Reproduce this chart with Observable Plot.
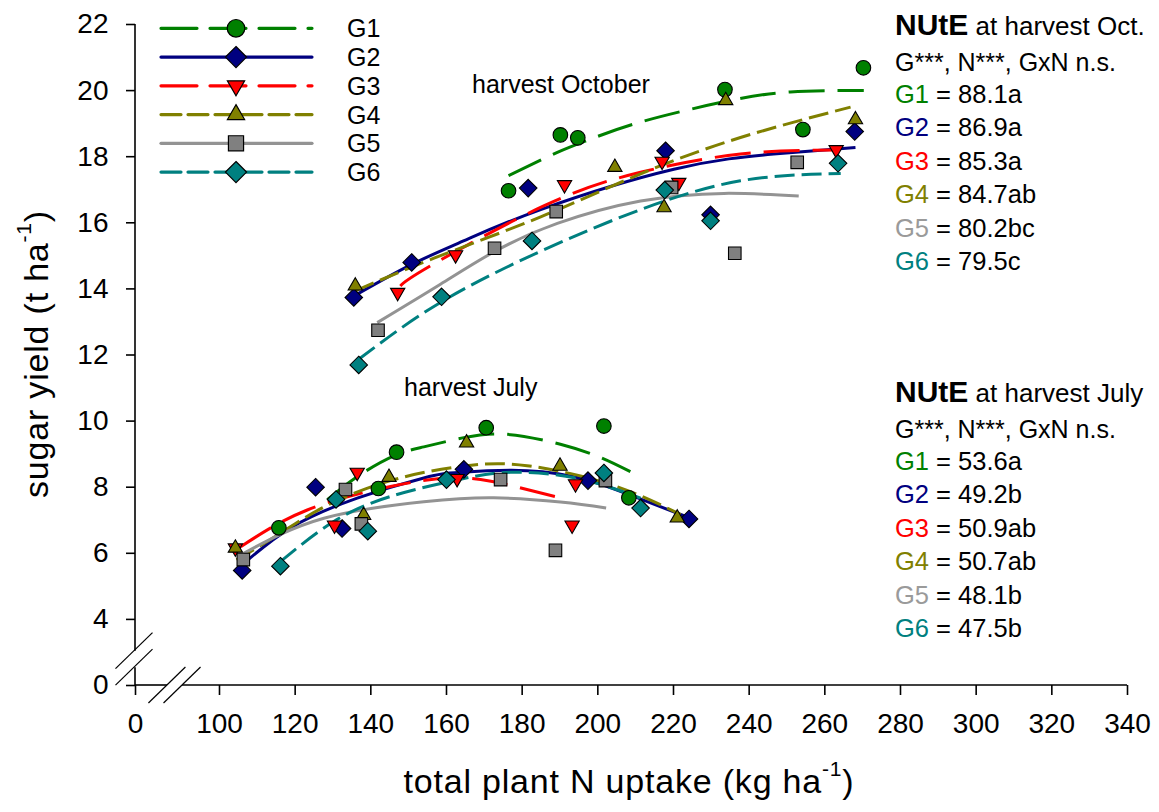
<!DOCTYPE html>
<html>
<head>
<meta charset="utf-8">
<script src="https://cdn.jsdelivr.net/npm/d3@7"></script>
<script src="https://cdn.jsdelivr.net/npm/@observablehq/plot@0.6"></script>
<style>
  html, body { margin: 0; padding: 0; background: #fff; }
  #chart { width: 1159px; height: 812px; }
  #chart svg [aria-label^="x-axis"] line, #chart svg [aria-label^="x-axis"] path,
  #chart svg [aria-label^="y-axis"] line, #chart svg [aria-label^="y-axis"] path { stroke-width: 1.6px; }
</style>
</head>
<body>
<div id="chart"></div>
<script>
const FONT = "'Liberation Sans', Arial, Helvetica, sans-serif";

// Genotypes
const genotypes = ["G1", "G2", "G3", "G4", "G5", "G6"];

// Axis ticks (x axis broken between 0 and 100, y axis broken between 0 and 4)
const xTicks = [0, 100, 120, 140, 160, 180, 200, 220, 240, 260, 280, 300, 320, 340];
const yTicks = [0, 4, 6, 8, 10, 12, 14, 16, 18, 20, 22];

// Observations, harvest October: [genotype, N uptake (kg/ha), sugar yield (t/ha)]
const octoberPoints = [
  ["G1", 176.4, 16.97], ["G1", 190.1, 18.66], ["G1", 194.7, 18.57], ["G1", 233.6, 20.03], ["G1", 254.2, 18.82], ["G1", 270.2, 20.69],
  ["G2", 135.5, 13.74], ["G2", 150.8, 14.80], ["G2", 181.6, 17.05], ["G2", 217.9, 18.18], ["G2", 229.8, 16.24], ["G2", 267.9, 18.76],
  ["G3", 147.1, 13.89], ["G3", 162.4, 15.03], ["G3", 191.2, 17.15], ["G3", 217.0, 17.86], ["G3", 221.4, 17.22], ["G3", 263.0, 18.21],
  ["G4", 135.9, 14.09], ["G4", 204.5, 17.68], ["G4", 217.5, 16.46], ["G4", 233.8, 19.70], ["G4", 268.1, 19.12],
  ["G5", 141.9, 12.75], ["G5", 172.7, 15.23], ["G5", 189.0, 16.34], ["G5", 219.5, 17.07], ["G5", 236.2, 15.08], ["G5", 252.7, 17.83],
  ["G6", 136.8, 11.70], ["G6", 158.7, 13.76], ["G6", 182.6, 15.45], ["G6", 217.7, 16.99], ["G6", 229.8, 16.06], ["G6", 263.5, 17.80]
];

// Observations, harvest July
const julyPoints = [
  ["G1", 115.7, 6.77], ["G1", 142.0, 7.96], ["G1", 146.8, 9.06], ["G1", 170.5, 9.80], ["G1", 201.6, 9.85], ["G1", 208.2, 7.68],
  ["G2", 106.0, 5.48], ["G2", 125.4, 8.00], ["G2", 132.4, 6.75], ["G2", 164.6, 8.54], ["G2", 197.4, 8.20], ["G2", 224.1, 7.04],
  ["G3", 104.2, 6.16], ["G3", 130.4, 6.85], ["G3", 136.4, 8.45], ["G3", 162.8, 8.26], ["G3", 193.2, 6.85], ["G3", 194.1, 8.10],
  ["G4", 104.2, 6.16], ["G4", 138.1, 7.15], ["G4", 144.8, 8.30], ["G4", 165.3, 9.34], ["G4", 190.0, 8.64], ["G4", 221.0, 7.07],
  ["G5", 106.3, 5.81], ["G5", 133.3, 7.93], ["G5", 137.5, 6.89], ["G5", 174.3, 8.23], ["G5", 188.8, 6.09], ["G5", 202.0, 8.20],
  ["G6", 116.1, 5.61], ["G6", 130.8, 7.63], ["G6", 139.2, 6.67], ["G6", 160.0, 8.23], ["G6", 201.6, 8.43], ["G6", 211.3, 7.37]
];

// Quadratic response curves, harvest October (points along each fitted curve)
const octoberFits = [
  ["G1", 176.4, 17.43], ["G1", 189.3, 18.13], ["G1", 198.5, 18.55], ["G1", 211.3, 19.05], ["G1", 233.3, 19.66], ["G1", 250.9, 19.96], ["G1", 270.3, 20.00],
  ["G2", 135.5, 13.78], ["G2", 150.8, 14.74], ["G2", 164.5, 15.45], ["G2", 184.9, 16.40], ["G2", 220.1, 17.62], ["G2", 246.5, 18.08], ["G2", 268.1, 18.28],
  ["G3", 147.8, 14.09], ["G3", 155.8, 14.70], ["G3", 185.7, 16.51], ["G3", 211.3, 17.53], ["G3", 237.7, 18.08], ["G3", 263.0, 18.20],
  ["G4", 135.9, 13.94], ["G4", 156.7, 14.93], ["G4", 184.9, 16.18], ["G4", 211.3, 17.48], ["G4", 237.7, 18.58], ["G4", 266.8, 19.50],
  ["G5", 141.7, 12.98], ["G5", 158.4, 14.14], ["G5", 172.7, 15.13], ["G5", 189.3, 15.98], ["G5", 211.3, 16.66], ["G5", 233.3, 16.89], ["G5", 253.1, 16.81],
  ["G6", 136.8, 11.87], ["G6", 158.4, 13.59], ["G6", 184.9, 15.14], ["G6", 211.3, 16.40], ["G6", 237.7, 17.27], ["G6", 264.2, 17.49]
];

// Quadratic response curves, harvest July
const julyFits = [
  ["G1", 128.5, 7.62], ["G1", 136.4, 8.32], ["G1", 146.1, 8.95], ["G1", 154.0, 9.22], ["G1", 164.6, 9.50], ["G1", 176.0, 9.60], ["G1", 190.1, 9.30], ["G1", 200.7, 8.90], ["G1", 208.6, 8.47],
  ["G2", 106.0, 5.65], ["G2", 118.8, 6.77], ["G2", 136.4, 7.67], ["G2", 154.0, 8.28], ["G2", 163.7, 8.45], ["G2", 181.3, 8.50], ["G2", 197.2, 8.22], ["G2", 209.5, 7.72], ["G2", 224.5, 7.06],
  ["G3", 105.6, 6.20], ["G3", 123.2, 7.31], ["G3", 145.2, 8.02], ["G3", 160.0, 8.28], ["G3", 169.0, 8.23], ["G3", 177.8, 8.03], ["G3", 191.0, 7.65],
  ["G4", 104.5, 5.80], ["G4", 116.0, 6.60], ["G4", 127.6, 7.40], ["G4", 145.2, 8.20], ["G4", 164.6, 8.64], ["G4", 181.3, 8.65], ["G4", 203.4, 8.08], ["G4", 221.9, 7.17],
  ["G5", 106.4, 6.00], ["G5", 127.6, 7.06], ["G5", 154.0, 7.56], ["G5", 172.5, 7.68], ["G5", 190.1, 7.55], ["G5", 202.2, 7.37],
  ["G6", 116.1, 5.75], ["G6", 130.2, 6.96], ["G6", 145.2, 7.72], ["G6", 162.8, 8.22], ["G6", 176.9, 8.45], ["G6", 194.5, 8.27], ["G6", 211.3, 7.67]
];

// Nitrogen utilisation efficiency (NUtE) with significance letters
const nuteOctober = ["88.1a", "86.9a", "85.3a", "84.7ab", "80.2bc", "79.5c"];
const nuteJuly = ["53.6a", "49.2b", "50.9ab", "50.7ab", "48.1b", "47.5b"];
const anovaNote = "G***, N***, GxN n.s.";

// ---- broken axes: the stretch below the break is compressed ----
const xBreakAt = 100, xBelowScale = 0.222;   // 0..100 drawn as 22.2 units
const yBreakAt = 4, yBelowScale = 0.5;       // 0..4 drawn as 2 units
const bx = (v) => v >= xBreakAt ? v : xBreakAt - (xBreakAt - v) * xBelowScale;
const by = (v) => v >= yBreakAt ? v : yBreakAt - (yBreakAt - v) * yBelowScale;
const ubx = (t) => t >= xBreakAt ? t : xBreakAt - (xBreakAt - t) / xBelowScale;
const uby = (t) => t >= yBreakAt ? t : yBreakAt - (yBreakAt - t) / yBelowScale;

// ---- styling ----
const lineColor = {G1: "#008000", G2: "#000080", G3: "#ff0000", G4: "#808000", G5: "#939393", G6: "#008080"};
const fillColor = {G1: "#008000", G2: "#000080", G3: "#ff0000", G4: "#808000", G5: "#808080", G6: "#008080"};
const textColor = {G1: "#008000", G2: "#000080", G3: "#ff0000", G4: "#808000", G5: "#9a9a9a", G6: "#008080"};
const dash = {G1: "36,13", G2: null, G3: "36,13", G4: "20,7", G5: null, G6: "20,7"};

// marker shapes; size is pi*r^2 as passed by Plot.dot
const rad = (size) => Math.sqrt(size / Math.PI);
const symCircle = {draw(c, size) { const r = rad(size); c.moveTo(r, 0); c.arc(0, 0, r, 0, 2 * Math.PI); c.closePath(); }};
const symSquare = {draw(c, size) { const r = rad(size) * 0.86; c.rect(-r, -r, 2 * r, 2 * r); }};
const symDiamond = {draw(c, size) { const r = rad(size) * 1.2; c.moveTo(0, -r); c.lineTo(r, 0); c.lineTo(0, r); c.lineTo(-r, 0); c.closePath(); }};
const symTriUp = {draw(c, size) { const s = rad(size), w = 0.98 * s, h = 1.7 * s; c.moveTo(0, -2 * h / 3); c.lineTo(w, h / 3); c.lineTo(-w, h / 3); c.closePath(); }};
const symTriDown = {draw(c, size) { const s = rad(size), w = 0.98 * s, h = 1.7 * s; c.moveTo(0, 2 * h / 3); c.lineTo(w, -h / 3); c.lineTo(-w, -h / 3); c.closePath(); }};
const symbolOf = {G1: symCircle, G2: symDiamond, G3: symTriDown, G4: symTriUp, G5: symSquare, G6: symDiamond};

const toRows = (rows) => rows.map(([g, n, y]) => ({g, n, y}));
const points = [...toRows(octoberPoints), ...toRows(julyPoints)];
const fitsOct = toRows(octoberFits);
const fitsJul = toRows(julyFits);
const X = (d) => bx(d.n);
const Y = (d) => by(d.y);

const fitMarks = [];
for (const fits of [fitsJul, fitsOct]) {
  for (const g of genotypes) {
    fitMarks.push(Plot.line(fits, {
      filter: (d) => d.g === g, x: X, y: Y, curve: "natural",
      stroke: lineColor[g], strokeWidth: 3, strokeDasharray: dash[g], strokeLinecap: "butt"
    }));
  }
}
const dotMarks = genotypes.map((g) => Plot.dot(points, {
  filter: (d) => d.g === g, x: X, y: Y, r: 7.3,
  symbol: symbolOf[g], fill: fillColor[g], stroke: "#000", strokeWidth: 1.1
}));

// axis lines with break marks, legend, titles and NUtE tables
function decorations(index, scales) {
  const x = (v) => scales.x(bx(v)), y = (v) => scales.y(by(v));
  const g = d3.create("svg:g").attr("font-family", FONT).attr("fill", "#000").attr("text-anchor", "start");

  const x0 = x(0), x100 = x(100), y0 = y(0), y4 = y(4);
  const xb1 = x0 + 0.38 * (x100 - x0), xb2 = x0 + 0.56 * (x100 - x0);
  const yb1 = y0 - 0.27 * (y0 - y4), yb2 = y0 - 0.52 * (y0 - y4);
  const ax = g.append("g").attr("stroke", "#000").attr("fill", "none").attr("stroke-width", 1.6);
  const seg = (a, b, c, d) => ax.append("line").attr("x1", a).attr("y1", b).attr("x2", c).attr("y2", d);
  seg(x0, y0, xb1, y0);
  seg(xb2, y0, x(340), y0);
  seg(x0, y0, x0, yb1);
  seg(x0, yb2, x0, y(22));
  const slash = (cx, cy) => seg(cx - 18.5, cy + 18, cx + 18.5, cy - 18).attr("stroke-width", 1.2);
  slash(xb1, y0); slash(xb2, y0); slash(x0 - 1, yb1); slash(x0 - 1, yb2);

  // legend
  const leg = g.append("g");
  genotypes.forEach((k, i) => {
    const ly = 28.3 + i * 28.75;
    leg.append("line").attr("x1", 161).attr("x2", 312).attr("y1", ly).attr("y2", ly)
      .attr("stroke", lineColor[k]).attr("stroke-width", 3.2)
      .attr("stroke-dasharray", dash[k]).attr("stroke-linecap", "round");
    const p = d3.path();
    symbolOf[k].draw(p, Math.PI * 8.8 * 8.8);
    leg.append("path").attr("d", p.toString()).attr("transform", `translate(236,${ly})`)
      .attr("fill", fillColor[k]).attr("stroke", "#000").attr("stroke-width", 1.2);
    leg.append("text").attr("x", 347).attr("y", ly).attr("dy", "0.36em")
      .attr("font-size", 25).text(k);
  });

  // harvest labels
  g.append("text").attr("x", 472).attr("y", 93).attr("font-size", 25).text("harvest October");
  g.append("text").attr("x", 404).attr("y", 396).attr("font-size", 25).text("harvest July");

  // NUtE tables
  const table = (top, title, values) => {
    const t = g.append("g");
    const head = t.append("text").attr("x", 895).attr("y", top);
    head.append("tspan").attr("font-weight", "bold").attr("font-size", 30).text("NUtE");
    head.append("tspan").attr("font-size", 26).text(" " + title);
    t.append("text").attr("x", 895).attr("y", top + 36).attr("font-size", 25).text(anovaNote);
    values.forEach((v, i) => {
      const row = t.append("text").attr("x", 895).attr("y", top + 68 + i * 33.4).attr("font-size", 25.5);
      row.append("tspan").attr("fill", textColor[genotypes[i]]).text(genotypes[i]);
      row.append("tspan").text(" = " + v);
    });
  };
  table(35, "at harvest Oct.", nuteOctober);
  table(402, "at harvest July", nuteJuly);

  // axis titles
  const xt = g.append("text").attr("x", 629).attr("y", 793).attr("text-anchor", "middle")
    .attr("font-size", 34).attr("letter-spacing", 0.8);
  xt.append("tspan").text("total plant N uptake (kg ha");
  xt.append("tspan").attr("font-size", 21).attr("dy", -17).text("-1");
  xt.append("tspan").attr("dy", 17).text(")");
  const yt = g.append("text").attr("transform", "translate(48,354) rotate(-90)")
    .attr("text-anchor", "middle").attr("font-size", 34).attr("letter-spacing", 0.8);
  yt.append("tspan").text("sugar yield (t ha");
  yt.append("tspan").attr("font-size", 21).attr("dy", -17).text("-1");
  yt.append("tspan").attr("dy", 17).text(")");
  return g.node();
}

const chart = Plot.plot({
  width: 1159,
  height: 812,
  marginLeft: 135, marginRight: 32, marginTop: 24, marginBottom: 127,
  style: {fontFamily: FONT, fontSize: "28px", background: "#fff", color: "#000", overflow: "visible"},
  x: {domain: [bx(0), 340], range: [135, 1127], ticks: xTicks.map(bx), tickSize: 10, tickPadding: 18,
      tickFormat: (t) => String(Math.round(ubx(t))), label: null},
  y: {domain: [by(0), 22], range: [685, 24], ticks: yTicks.map(by), tickSize: 9, tickPadding: 18,
      tickFormat: (t) => String(Math.round(uby(t))), label: null},
  marks: [
    ...fitMarks,
    ...dotMarks,
    decorations
  ]
});
document.getElementById("chart").appendChild(chart);
</script>
</body>
</html>
